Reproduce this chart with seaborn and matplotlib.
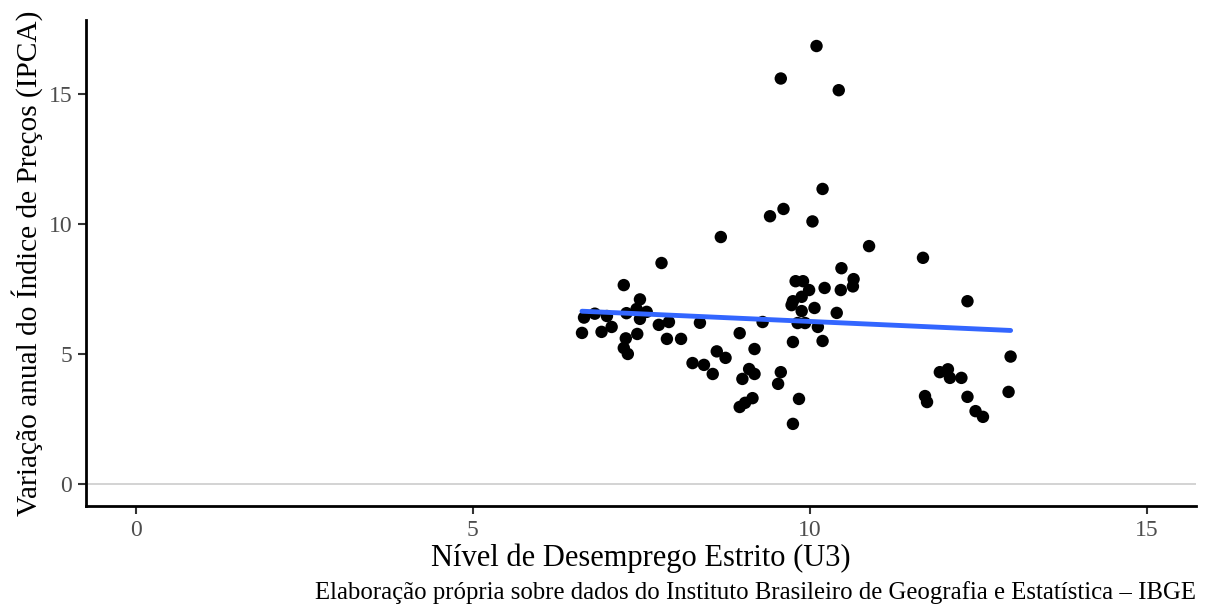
import matplotlib
matplotlib.use("Agg")
import matplotlib.pyplot as plt
import seaborn as sns
import pandas as pd

desemprego = [
    7.80, 7.24, 7.48, 6.65, 6.81, 6.99, 7.28, 7.43, 7.58, 7.48,
    6.62, 6.91, 7.06, 7.27, 7.44, 7.24, 7.30, 7.76, 7.91, 7.88,
    8.09, 8.37, 8.26, 8.43, 8.56, 8.62, 8.75, 8.96, 9.18, 9.10,
    9.18, 9.00, 9.15, 9.04, 8.96, 9.75, 9.57, 9.53, 9.84, 9.75,
    10.88, 11.68, 10.47, 10.65, 10.64, 10.46, 10.22, 9.79, 9.90, 9.99,
    9.88, 9.75, 9.73, 10.07, 9.88, 10.40, 9.30, 9.82, 9.93, 10.12,
    10.19, 10.10, 9.57, 10.43, 10.19, 9.61, 9.41, 10.04, 8.68,
    12.34, 12.98, 11.93, 12.05, 12.08, 12.25, 11.71, 11.74, 12.34, 12.95,
    12.46, 12.57,
]
ipca = [
    8.50, 7.65, 7.10, 6.40, 6.55, 6.46, 6.57, 6.73, 6.62, 6.35,
    5.81, 5.85, 6.04, 5.60, 5.77, 5.23, 5.00, 6.12, 6.23, 5.58,
    5.58, 6.20, 4.65, 4.58, 4.23, 5.10, 4.85, 5.80, 5.19, 4.42,
    4.23, 4.04, 3.30, 3.12, 2.96, 5.46, 4.30, 3.85, 3.27, 2.31,
    9.15, 8.70, 8.30, 7.88, 7.60, 7.46, 7.54, 7.80, 7.80, 7.46,
    7.20, 7.03, 6.88, 6.77, 6.65, 6.58, 6.23, 6.19, 6.19, 6.04,
    5.50, 16.85, 15.60, 15.15, 11.35, 10.58, 10.30, 10.10, 9.50,
    7.03, 4.90, 4.30, 4.41, 4.08, 4.08, 3.38, 3.15, 3.35, 3.54,
    2.80, 2.58,
]
x_ticks = [0, 5, 10, 15]
y_ticks = [0, 5, 10, 15]

df = pd.DataFrame({"u3": desemprego, "ipca": ipca})

sns.set_theme(style="white")
plt.rcParams["font.family"] = ["Liberation Serif", "DejaVu Serif"]

fig = plt.figure(figsize=(12.08, 6.07), dpi=100)
ax = fig.add_axes([0.0712, 0.1664, 0.9188, 0.8006])

ax.axhline(0, color="#cccccc", lw=1.2, zorder=0)
sns.scatterplot(data=df, x="u3", y="ipca", ax=ax, color="black", s=80,
                edgecolor="none", zorder=2)
sns.regplot(data=df, x="u3", y="ipca", ax=ax, scatter=False, ci=None,
            line_kws={"color": "#3366FF", "lw": 3.5, "zorder": 3})

ax.set_xlim(-0.74, 15.73)
ax.set_ylim(-0.85, 17.85)
ax.set_xticks(x_ticks)
ax.set_yticks(y_ticks)
ax.set_xticklabels([str(v) for v in x_ticks])
ax.set_yticklabels([str(v) for v in y_ticks])
ax.tick_params(axis="both", colors="#333333", labelcolor="#4d4d4d",
               labelsize=17, length=6, width=1.5, direction="out", pad=4)
ax.tick_params(axis="both", which="both", bottom=True, left=True)

for side in ["top", "right"]:
    ax.spines[side].set_visible(False)
for side in ["left", "bottom"]:
    ax.spines[side].set_color("black")
    ax.spines[side].set_linewidth(2)

ax.set_xlabel("Nível de Desemprego Estrito (U3)", fontsize=22, color="black", labelpad=2)
ax.set_ylabel("Variação anual do Índice de Preços (IPCA)", fontsize=21.2, color="black", labelpad=4)
ax.grid(False)

fig.text(0.990, 0.005,
         "Elaboração própria sobre dados do Instituto Brasileiro de Geografia e Estatística – IBGE",
         ha="right", va="bottom", fontsize=17.8, color="black")

fig.savefig("out.png", dpi=100)
